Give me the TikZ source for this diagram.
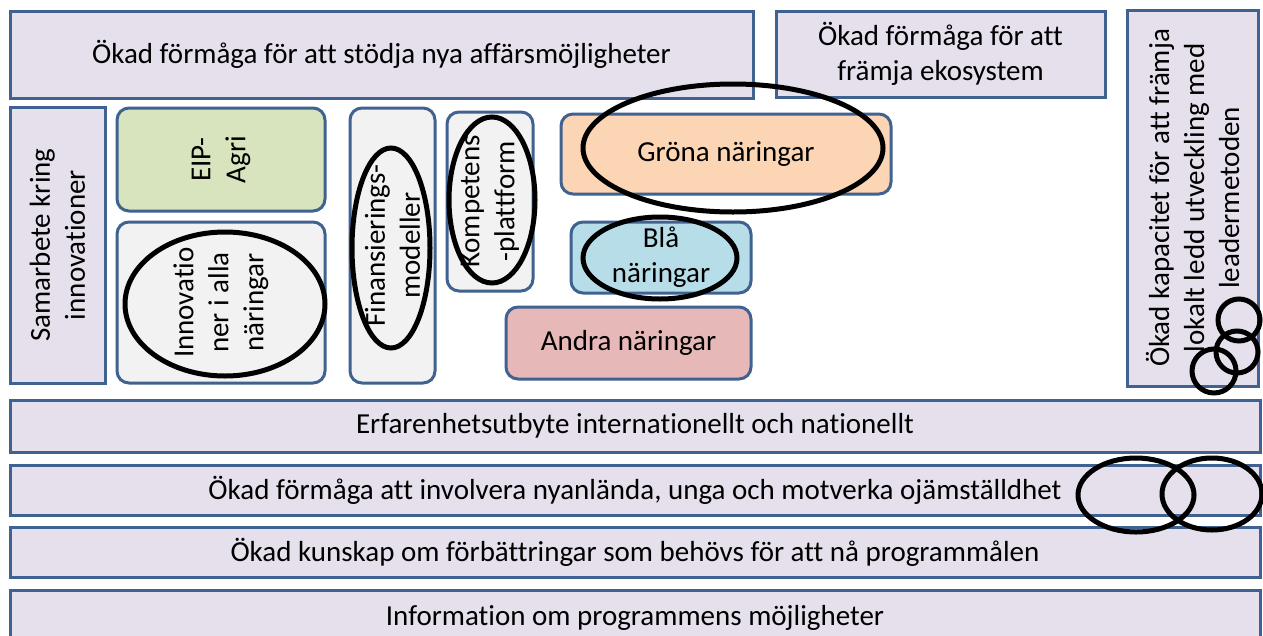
\documentclass[tikz,border=0pt]{standalone}
\usepackage{fontspec}
\setmainfont{Carlito}[Ligatures={NoCommon}]
\usetikzlibrary{shapes.geometric}
\definecolor{bd}{RGB}{64,98,145}
\definecolor{lav}{RGB}{229,224,236}
\definecolor{grn}{RGB}{215,228,189}
\definecolor{gry}{RGB}{242,242,242}
\definecolor{org}{RGB}{252,213,181}
\definecolor{blu}{RGB}{183,222,232}
\definecolor{pnk}{RGB}{230,185,184}
\begin{document}
\begin{tikzpicture}[x=1pt,y=-1pt,
  box/.style={draw=bd, line width=3pt, inner sep=0pt, outer sep=0pt, align=center,
    font=\fontsize{29}{35}\selectfont},
  lavbox/.style={box, fill=lav},
  rbox/.style={box, rounded corners=12pt},
  ring/.style={draw=black, line width=5pt, ellipse, inner sep=0pt, outer sep=0pt},
]
\useasboundingbox[fill=white] (0,0) rectangle (1263,635);
% top row
\node[lavbox, minimum width=743pt, minimum height=87pt] (aff) at (381.5,54.5)
  {Ökad förmåga för att stödja nya affärsmöjligheter};
\node[lavbox, minimum width=329pt, minimum height=86pt] (eko) at (940.5,54)
  {Ökad förmåga för att\\främja ekosystem};
\node[lavbox, minimum width=376pt, minimum height=131pt, rotate=90] (lead) at (1192.5,198)
  {Ökad kapacitet för att främja\\lokalt ledd utveckling med\\leadermetoden};
% left column
\node[lavbox, minimum width=276pt, minimum height=95pt, rotate=90] (sam) at (57.5,245)
  {Samarbete kring\\innovationer};
\node[rbox, fill=grn, minimum width=103pt, minimum height=208pt, rotate=90] (eip) at (221,159.5)
  {EIP-\\Agri};
\node[rbox, fill=gry, minimum width=161pt, minimum height=208pt, rotate=90] (inn) at (221,302.5)
  {Innovatio\\ner i alla\\näringar};
\node[rbox, fill=gry, minimum width=275pt, minimum height=85pt, rotate=90] (fin) at (392.5,245.5)
  {Finansierings-\\modeller};
\node[rbox, fill=gry, minimum width=179pt, minimum height=86pt, rotate=90] (kom) at (490,201.5)
  {Kompetens\\-plattform};
% sectors
\node[rbox, fill=org, minimum width=330pt, minimum height=80pt] (gron) at (726,154)
  {Gröna näringar};
\node[rbox, fill=blu, minimum width=180pt, minimum height=71pt] (bla) at (661,257.5)
  {Blå\\näringar};
\node[rbox, fill=pnk, minimum width=245pt, minimum height=72pt] (andra) at (628.5,343)
  {Andra näringar};
% bottom bars
\node[lavbox, minimum width=1250pt, minimum height=52pt] (erf) at (635,426)
  {Erfarenhetsutbyte internationellt och nationellt};
\node[lavbox, minimum width=1250pt, minimum height=50pt] (inv) at (635,490)
  {Ökad förmåga att involvera nyanlända, unga och motverka ojämställdhet};
\node[lavbox, minimum width=1250pt, minimum height=50pt] (kun) at (635,552)
  {Ökad kunskap om förbättringar som behövs för att nå programmålen};
\node[lavbox, minimum width=1250pt, minimum height=56pt] (info) at (635,618)
  {Information om programmens möjligheter};
% ellipses
\node[ring, minimum width=200pt, minimum height=144pt] (e1) at (225,304) {};
\node[ring, minimum width=78pt, minimum height=200pt] (e2) at (391,248) {};
\node[ring, minimum width=86pt, minimum height=166pt] (e3) at (492,200) {};
\node[ring, minimum width=300pt, minimum height=128pt] (e4) at (733,148) {};
\node[ring, minimum width=154pt, minimum height=82pt] (e5) at (660,258) {};
\node[ring, minimum width=42pt, minimum height=42pt] (c1) at (1239,320) {};
\node[ring, minimum width=42pt, minimum height=42pt] (c2) at (1237,352) {};
\node[ring, minimum width=44pt, minimum height=44pt] (c3) at (1214,371) {};
\node[ring, minimum width=116pt, minimum height=74pt] (e6) at (1136,495) {};
\node[ring, minimum width=100pt, minimum height=72pt] (e7) at (1212,494) {};
\end{tikzpicture}
\end{document}
